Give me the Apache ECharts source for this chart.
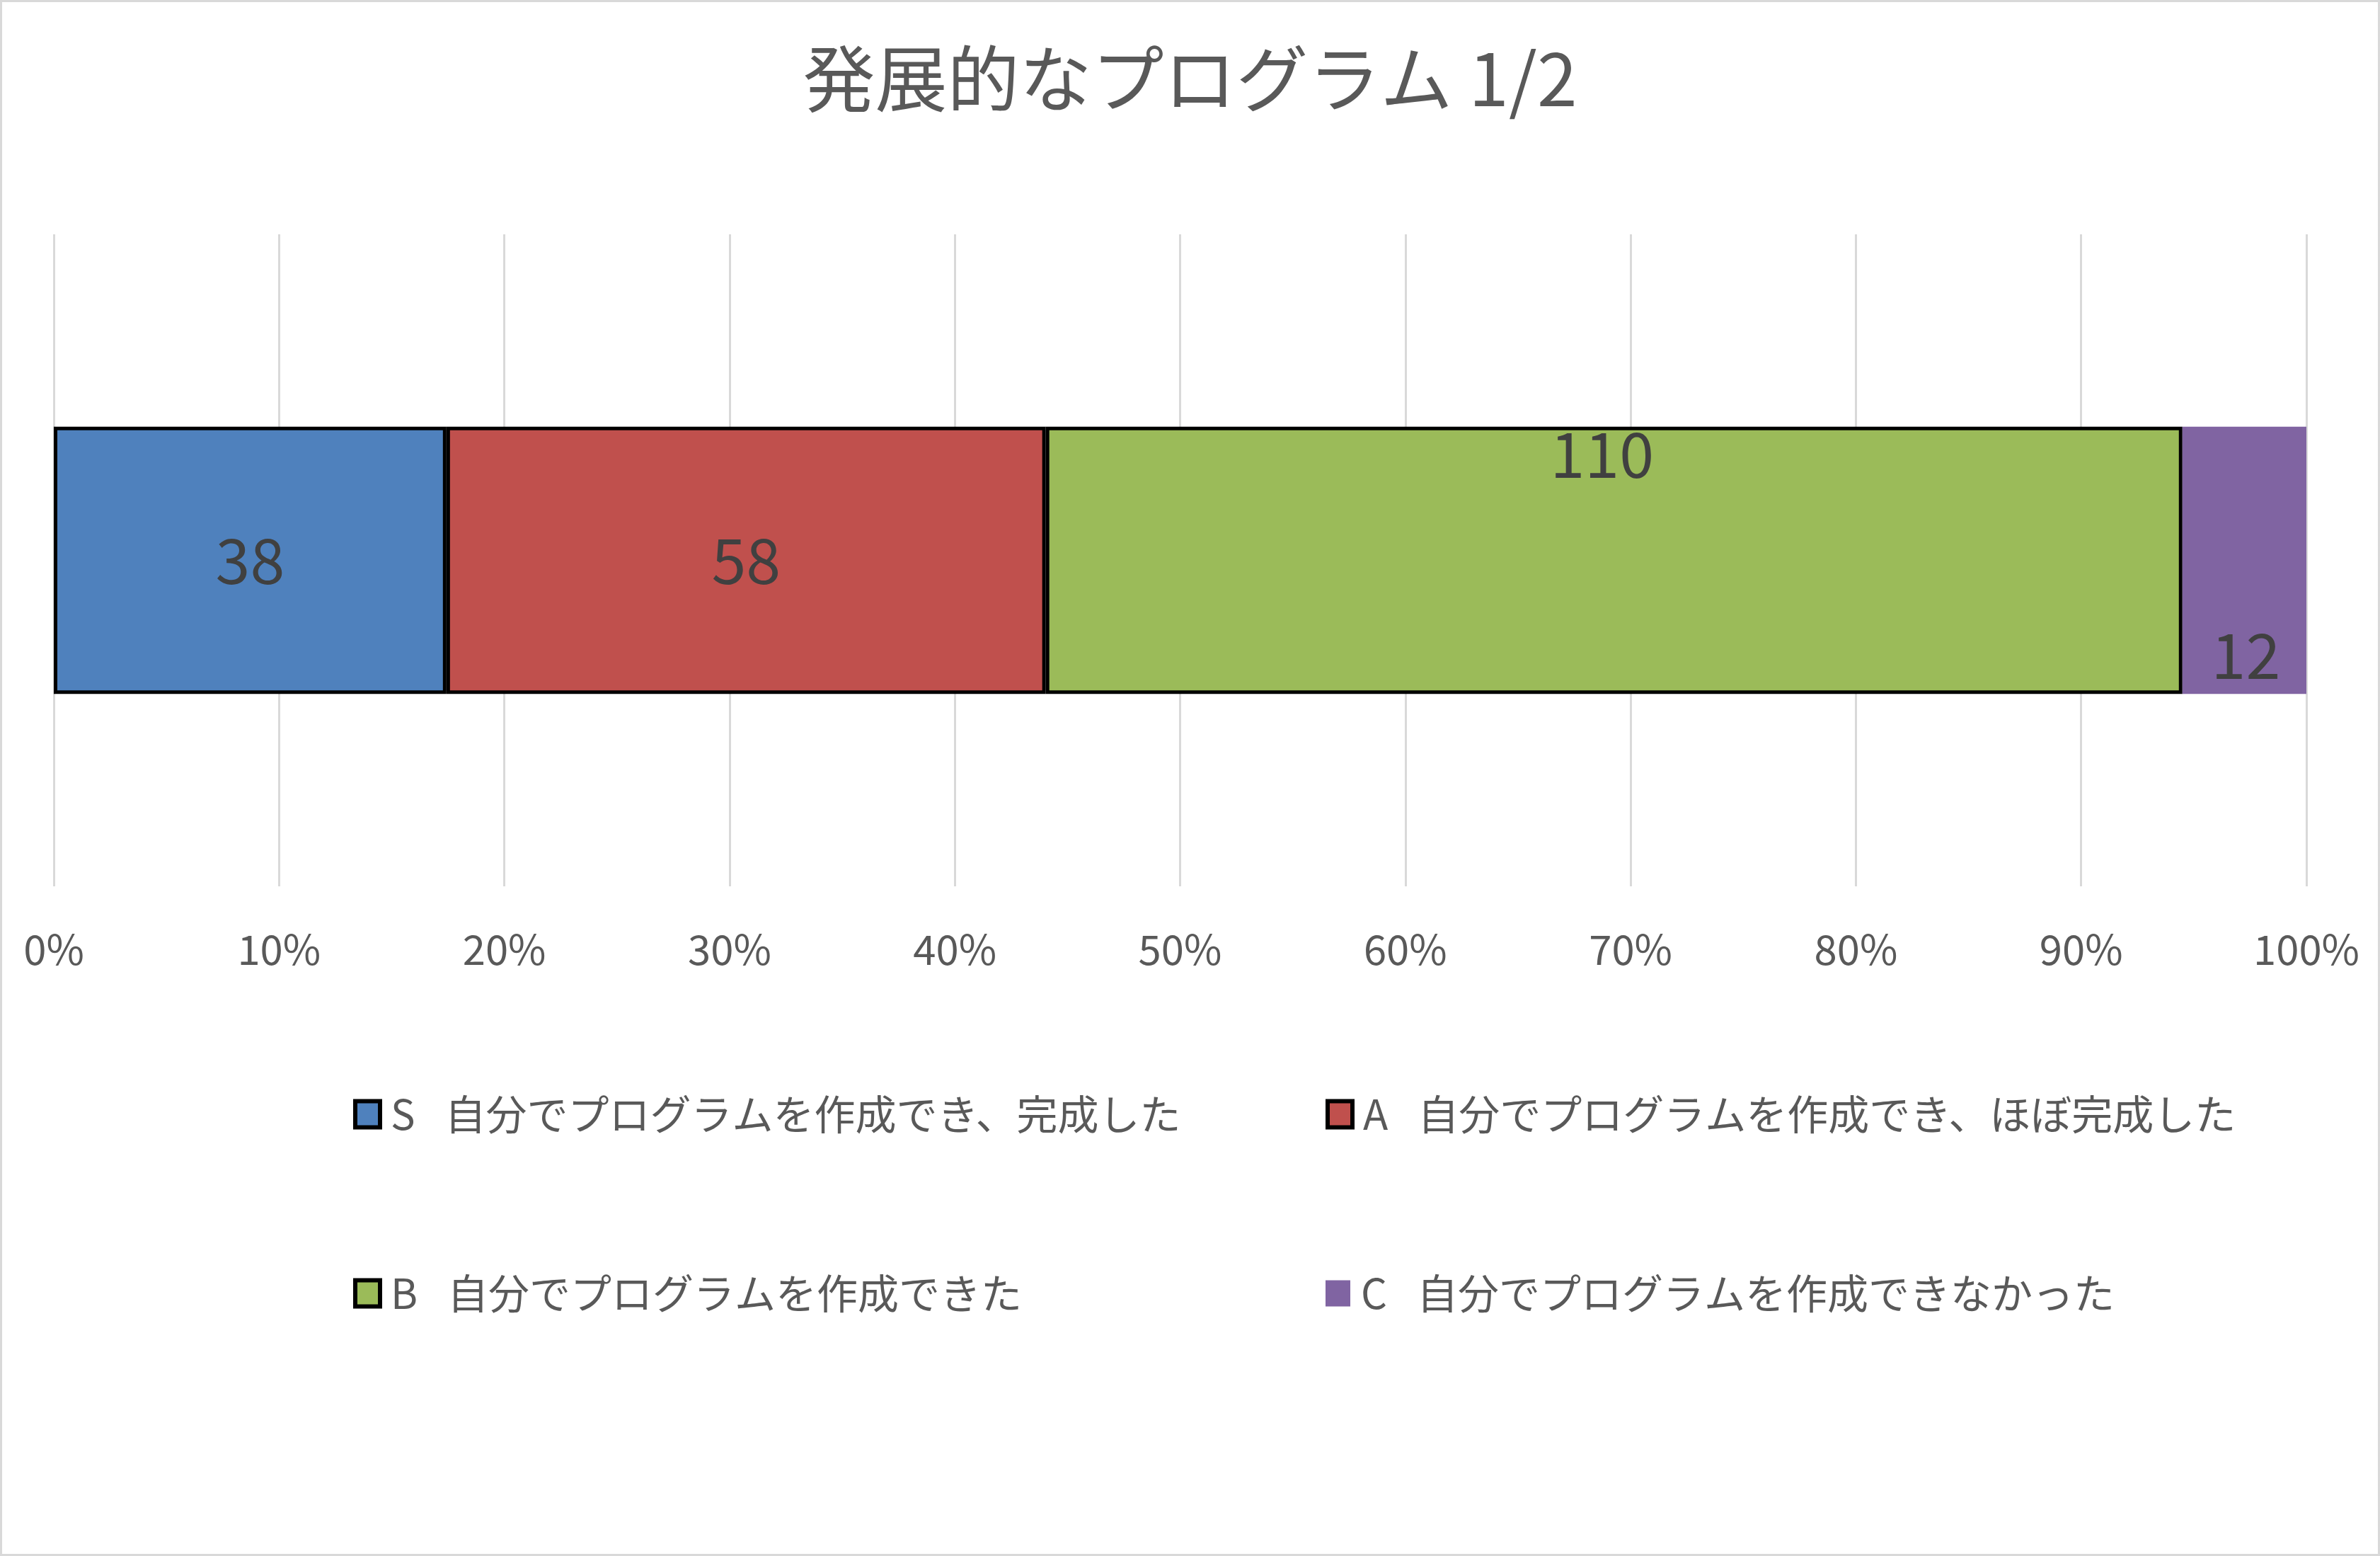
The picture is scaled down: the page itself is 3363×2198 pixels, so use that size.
<!DOCTYPE html>
<html>
<head>
<meta charset="utf-8">
<script src="https://cdn.jsdelivr.net/npm/echarts@6/dist/echarts.min.js"></script>
<style>
html,body{margin:0;padding:0;background:#fff;}
#chart{width:3363px;height:2198px;box-sizing:border-box;border:3px solid #d9d9d9;}
</style>
</head>
<body>
<div id="chart"></div>
<script>
const titleText = '発展的なプログラム 1/2';
const categories = [''];
const seriesNames = [
  'S\u2002 自分でプログラムを作成でき、完成した',
  'A\u2002 自分でプログラムを作成でき、ほぼ完成した',
  'B\u2002 自分でプログラムを作成できた',
  'C\u2002 自分でプログラムを作成できなかった'
];
const countsS = [38];
const countsA = [58];
const countsB = [110];
const countsC = [12];
const colors = ['#4f81bd', '#c0504d', '#9bbb59', '#8064a2'];
const tickLabels = ['0%','10%','20%','30%','40%','50%','60%','70%','80%','90%','100%'];

const allCounts = [countsS, countsA, countsB, countsC];
const totals = categories.map((c, i) => allCounts.reduce((s, arr) => s + arr[i], 0));

const FONT = '"Noto Sans CJK JP", "Noto Sans", sans-serif';
const labelOffsets = [[0,0],[0,0],[-17,-150],[2,134]];
const bordered = [true, true, true, false];

const series = allCounts.map((arr, k) => ({
  name: seriesNames[k],
  type: 'bar',
  stack: 'total',
  barCategoryGap: '59%',
  data: arr.map((v, i) => ({ value: v / totals[i] * 100 })),
  itemStyle: {
    color: colors[k],
    borderColor: bordered[k] ? '#000' : colors[k],
    borderWidth: bordered[k] ? 5 : 0
  },
  label: {
    show: true,
    position: 'inside',
    offset: labelOffsets[k],
    color: '#404040',
    fontFamily: FONT,
    fontSize: 88,
    formatter: p => String(arr[p.dataIndex])
  },
  emphasis: { disabled: true }
}));

const legendPos = [
  { left: 496, top: 1542 },
  { left: 1870, top: 1542 },
  { left: 496, top: 1795 },
  { left: 1870, top: 1795 }
];
const legends = seriesNames.map((n, k) => ({
  data: [n],
  left: legendPos[k].left,
  top: legendPos[k].top,
  padding: 0,
  icon: 'rect',
  itemWidth: 35,
  itemHeight: 37,
  selectedMode: false,
  itemStyle: bordered[k] ? { borderWidth: 6, borderColor: '#000' } : {},
  textStyle: { color: '#595959', fontFamily: FONT, fontSize: 58, padding: [0,0,0,10] }
}));

const chart = echarts.init(document.getElementById('chart'), null, { renderer: 'canvas' });
chart.setOption({
  animation: false,
  backgroundColor: '#fff',
  title: {
    text: titleText,
    left: 'center',
    top: 52,
    textStyle: { color: '#595959', fontFamily: FONT, fontSize: 102, fontWeight: 'normal' }
  },
  legend: legends,
  grid: { left: 73, right: 101, top: 328, bottom: 943, containLabel: false },
  xAxis: {
    type: 'value',
    min: 0,
    max: 100,
    interval: 10,
    axisLine: { show: false },
    axisTick: { show: false },
    splitLine: { show: true, lineStyle: { color: '#d9d9d9', width: 3 } },
    axisLabel: {
      margin: 60,
      color: '#595959',
      fontFamily: FONT,
      fontSize: 58,
      formatter: v => tickLabels[Math.round(v / 10)]
    }
  },
  yAxis: {
    type: 'category',
    data: categories,
    axisLine: { show: false },
    axisTick: { show: false },
    axisLabel: { show: false },
    splitLine: { show: false }
  },
  series: series
});
</script>
</body>
</html>
